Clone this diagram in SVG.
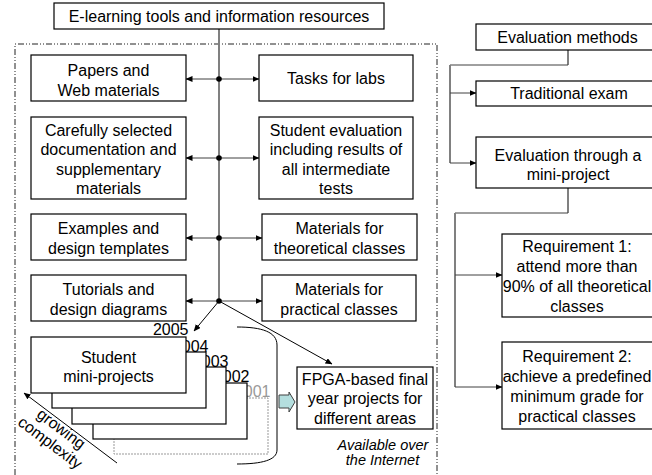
<svg xmlns="http://www.w3.org/2000/svg" width="652" height="475" viewBox="0 0 652 475">
<style>
  .box { fill: #fff; stroke: #000; stroke-width: 1.2; }
  .t { font-family: "Liberation Sans", Arial, sans-serif; font-size: 16px; fill: #000; text-anchor: middle; }
  .lab { font-family: "Liberation Sans", Arial, sans-serif; font-size: 16px; fill: #000; text-anchor: end; }
  .it { font-family: "Liberation Sans", Arial, sans-serif; font-size: 14.5px; font-style: italic; fill: #000; text-anchor: middle; }
  .hc { fill: none; stroke: #404040; stroke-width: 1; }
  .vc { fill: none; stroke: #808080; stroke-width: 2; }
  .ac { fill: none; stroke: #000; stroke-width: 1; }
</style>
<defs>
  <marker id="ah" markerUnits="userSpaceOnUse" markerWidth="7" markerHeight="6" refX="6.5" refY="3" orient="auto">
    <path d="M0,0 L7,3 L0,6 z" fill="#000"/>
  </marker>
</defs>

<rect width="652" height="475" fill="#fff"/>

<!-- available over the internet region -->
<path id="region" d="M15,475 L15,44 L437,44 L437,475" fill="none" stroke="#222" stroke-width="1" stroke-dasharray="6 2 1 2 1 2"/>

<g id="connectors">
  <line class="vc" x1="219" y1="29" x2="219" y2="301"/>
  <line class="hc" x1="219" y1="79" x2="186" y2="79" marker-end="url(#ah)"/>
  <line class="hc" x1="219" y1="79" x2="259" y2="79" marker-end="url(#ah)"/>
  <line class="hc" x1="219" y1="158" x2="186" y2="158" marker-end="url(#ah)"/>
  <line class="hc" x1="219" y1="158" x2="259" y2="158" marker-end="url(#ah)"/>
  <line class="hc" x1="219" y1="238" x2="186" y2="238" marker-end="url(#ah)"/>
  <line class="hc" x1="219" y1="238" x2="262" y2="238" marker-end="url(#ah)"/>
  <line class="hc" x1="219" y1="301" x2="186" y2="301" marker-end="url(#ah)"/>
  <line class="hc" x1="219" y1="301" x2="262" y2="301" marker-end="url(#ah)"/>
  <circle cx="219" cy="79" r="2.8" fill="#000"/>
  <circle cx="219" cy="158" r="2.8" fill="#000"/>
  <circle cx="219" cy="238" r="2.8" fill="#000"/>
  <circle cx="219" cy="301" r="2.8" fill="#000"/>
  <line class="ac" x1="219" y1="301" x2="194" y2="331" marker-end="url(#ah)"/>
  <line class="ac" x1="219" y1="301" x2="332" y2="364" marker-end="url(#ah)"/>
  <line class="ac" x1="117" y1="463" x2="24" y2="393" marker-end="url(#ah)"/>
  <path class="ac" d="M237,327 C262,327 277,332 277,345 L277,450 C277,460 262,464 237,464"/>
  <polygon points="279,395 289,395 289,392 295,402 289,412 289,408 279,408" fill="#b4dede" stroke="#404040" stroke-width="1"/>
  <!-- right panel -->
  <polyline class="vc" points="568,50 568,65"/>
  <line class="hc" x1="568" y1="65" x2="450" y2="65"/>
  <line class="vc" x1="450" y1="65" x2="450" y2="163"/>
  <line class="hc" x1="450" y1="93" x2="476" y2="93" marker-end="url(#ah)"/>
  <line class="hc" x1="450" y1="163" x2="476" y2="163" marker-end="url(#ah)"/>
  <polyline class="vc" points="568,188 568,213"/>
  <line class="hc" x1="568" y1="213" x2="455" y2="213"/>
  <line class="vc" x1="455" y1="213" x2="455" y2="387"/>
  <line class="hc" x1="455" y1="275" x2="502" y2="275" marker-end="url(#ah)"/>
  <line class="hc" x1="455" y1="387" x2="502" y2="387" marker-end="url(#ah)"/>
</g>

<g id="top">
  <rect class="box" x="54" y="3" width="330" height="26"/>
  <text class="t" x="219" y="21.5">E-learning tools and information resources</text>
</g>

<g id="papers">
  <rect class="box" x="31" y="55" width="155" height="46"/>
  <text class="t" x="108.5" y="75.5">Papers and</text>
  <text class="t" x="108.5" y="95.5">Web materials</text>
</g>
<g id="documentation">
  <rect class="box" x="31" y="117" width="155" height="82"/>
  <text class="t" x="108.5" y="135.5">Carefully selected</text>
  <text class="t" x="108.5" y="155">documentation and</text>
  <text class="t" x="108.5" y="174.5">supplementary</text>
  <text class="t" x="108.5" y="194">materials</text>
</g>
<g id="examples">
  <rect class="box" x="31" y="214" width="155" height="46"/>
  <text class="t" x="108.5" y="234">Examples and</text>
  <text class="t" x="108.5" y="253.5">design templates</text>
</g>
<g id="tutorials">
  <rect class="box" x="31" y="275" width="155" height="46"/>
  <text class="t" x="108.5" y="295">Tutorials and</text>
  <text class="t" x="108.5" y="315">design diagrams</text>
</g>

<g id="tasks">
  <rect class="box" x="259" y="55" width="154" height="46"/>
  <text class="t" x="336" y="84">Tasks for labs</text>
</g>
<g id="evaluation">
  <rect class="box" x="259" y="117" width="154" height="82"/>
  <text class="t" x="336" y="135.5">Student evaluation</text>
  <text class="t" x="336" y="155">including results of</text>
  <text class="t" x="336" y="174.5">all intermediate</text>
  <text class="t" x="336" y="194">tests</text>
</g>
<g id="theoretical">
  <rect class="box" x="262" y="214" width="155" height="46"/>
  <text class="t" x="339.5" y="234">Materials for</text>
  <text class="t" x="339.5" y="253.5">theoretical classes</text>
</g>
<g id="practical">
  <rect class="box" x="262" y="275" width="154" height="46"/>
  <text class="t" x="339" y="295">Materials for</text>
  <text class="t" x="339" y="315">practical classes</text>
</g>

<g id="mini-projects">
  <rect x="114" y="398" width="154" height="56" fill="#fff" stroke="#999" stroke-width="1" stroke-dasharray="2 1"/>
  <text class="lab" x="270.5" y="397" style="fill:#999">2001</text>
  <rect class="box" x="93" y="383" width="154" height="56"/>
  <text class="lab" x="249.5" y="382">2002</text>
  <rect class="box" x="72" y="367" width="154" height="57"/>
  <text class="lab" x="228.5" y="367">2003</text>
  <rect class="box" x="52" y="352" width="154" height="56"/>
  <text class="lab" x="208.5" y="352">2004</text>
  <rect class="box" x="31" y="337" width="155" height="56"/>
  <text class="lab" x="188.5" y="335">2005</text>
  <text class="t" x="108.5" y="362.5">Student</text>
  <text class="t" x="108.5" y="382">mini-projects</text>
</g>

<g id="fpga">
  <rect class="box" x="297" y="367" width="136" height="62"/>
  <text class="t" x="365" y="384.5">FPGA-based final</text>
  <text class="t" x="365" y="404">year projects for</text>
  <text class="t" x="365" y="423.5">different areas</text>
</g>

<g id="growing">
  <text class="t" transform="translate(58,433) rotate(37)" x="0" y="0">growing</text>
  <text class="t" transform="translate(47,447) rotate(37)" x="0" y="0">complexity</text>
</g>

<g id="internet">
  <text class="it" x="383" y="450">Available over</text>
  <text class="it" x="382.5" y="464.5">the Internet</text>
</g>

<g id="eval-methods">
  <rect class="box" x="476" y="24" width="183" height="26"/>
  <text class="t" x="567.5" y="42.5">Evaluation methods</text>
</g>
<g id="traditional">
  <rect class="box" x="476" y="81" width="183" height="25"/>
  <text class="t" x="569" y="99">Traditional exam</text>
</g>
<g id="through">
  <rect class="box" x="476" y="137" width="183" height="51"/>
  <text class="t" x="568" y="160.5">Evaluation through a</text>
  <text class="t" x="568" y="180">mini-project</text>
</g>
<g id="req1">
  <rect class="box" x="502" y="234" width="160" height="83"/>
  <text class="t" x="577" y="251.5">Requirement 1:</text>
  <text class="t" x="577" y="271.5">attend more than</text>
  <text class="t" x="577" y="291.5">90% of all theoretical</text>
  <text class="t" x="577" y="311.5">classes</text>
</g>
<g id="req2">
  <rect class="box" x="502" y="342" width="160" height="87"/>
  <text class="t" x="577" y="361.5">Requirement 2:</text>
  <text class="t" x="577" y="381.5">achieve a predefined</text>
  <text class="t" x="577" y="401.5">minimum grade for</text>
  <text class="t" x="577" y="421.5">practical classes</text>
</g>
</svg>
